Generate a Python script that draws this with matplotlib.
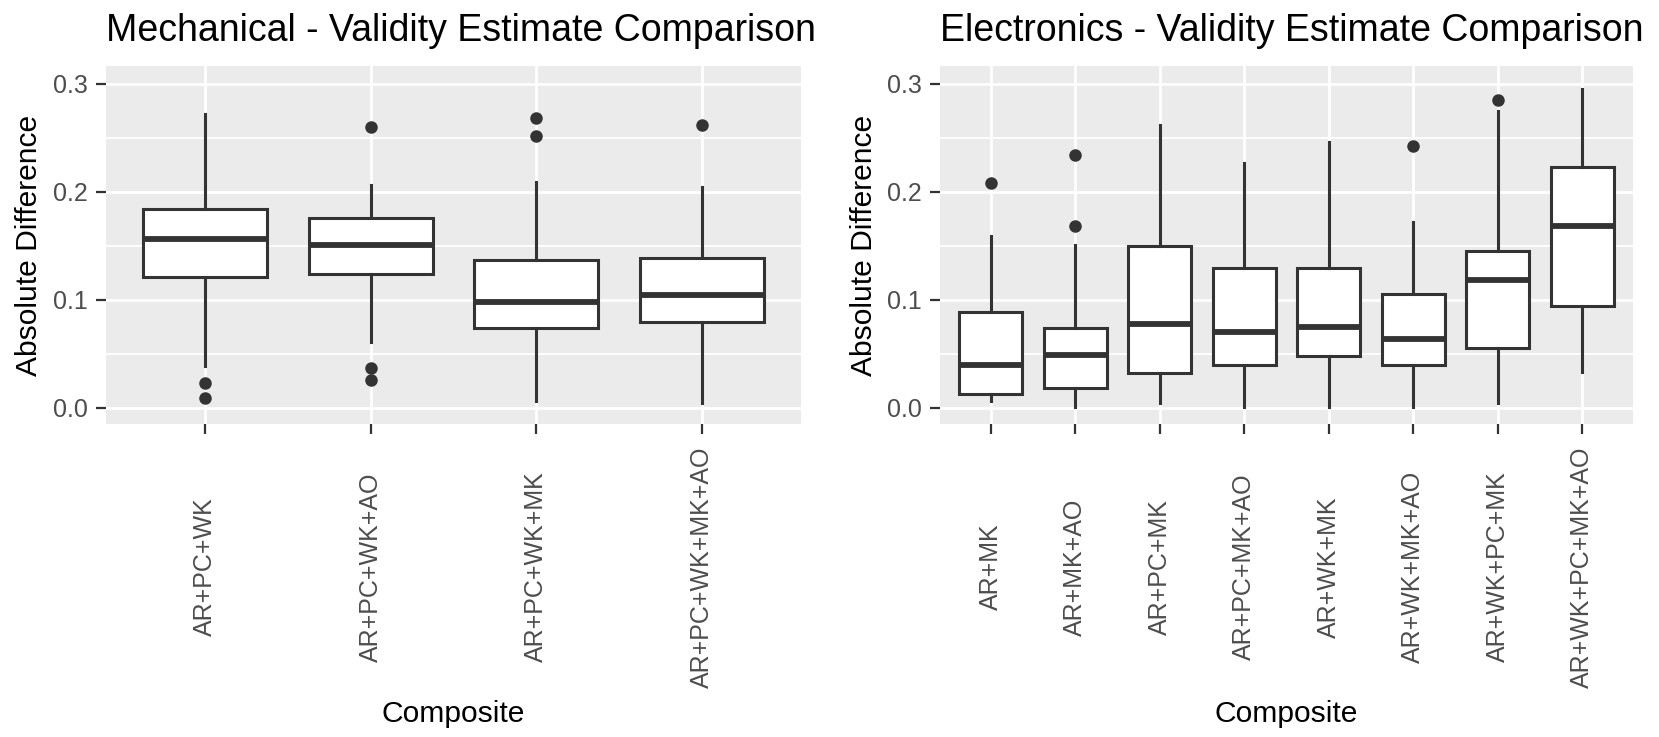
import matplotlib
matplotlib.use("Agg")
import matplotlib.pyplot as plt
import numpy as np

plt.rcParams['font.family'] = ['Liberation Sans', 'DejaVu Sans']

# Mechanical panel (box stats)
mech_labels = ['AR+PC+WK', 'AR+PC+WK+AO', 'AR+PC+WK+MK', 'AR+PC+WK+MK+AO']
mech_whislo = [0.039, 0.061, 0.006, 0.004]
mech_q1 = [0.121, 0.124, 0.074, 0.079]
mech_med = [0.156, 0.151, 0.098, 0.104]
mech_q3 = [0.184, 0.176, 0.137, 0.139]
mech_whishi = [0.272, 0.206, 0.209, 0.204]
mech_fliers = [[0.023, 0.009], [0.260, 0.037, 0.026], [0.268, 0.252], [0.262]]

# Electronics panel
elec_labels = ['AR+MK', 'AR+MK+AO', 'AR+PC+MK', 'AR+PC+MK+AO', 'AR+WK+MK',
               'AR+WK+MK+AO', 'AR+WK+PC+MK', 'AR+WK+PC+MK+AO']
elec_whislo = [0.006, 0.001, 0.004, 0.001, 0.001, 0.001, 0.004, 0.033]
elec_q1 = [0.013, 0.018, 0.032, 0.040, 0.048, 0.040, 0.055, 0.094]
elec_med = [0.040, 0.049, 0.078, 0.070, 0.075, 0.064, 0.118, 0.168]
elec_q3 = [0.089, 0.074, 0.150, 0.129, 0.129, 0.105, 0.145, 0.223]
elec_whishi = [0.159, 0.151, 0.262, 0.227, 0.246, 0.172, 0.275, 0.295]
elec_fliers = [[0.208], [0.234, 0.168], [], [], [], [0.242], [0.285], []]

dark = '#333333'
tick_col = '#4D4D4D'


def draw_panel(ax, labels, lo, q1, med, q3, hi, fliers, title):
    stats = []
    for i in range(len(labels)):
        stats.append(dict(whislo=lo[i], q1=q1[i], med=med[i], q3=q3[i],
                          whishi=hi[i], fliers=fliers[i], label=labels[i]))
    pos = np.arange(1, len(labels) + 1)
    ax.bxp(stats, positions=pos, widths=0.75, patch_artist=True, showcaps=False,
           boxprops=dict(facecolor='white', edgecolor=dark, linewidth=2.2),
           medianprops=dict(color=dark, linewidth=4.2, solid_capstyle='butt'),
           whiskerprops=dict(color=dark, linewidth=2.2),
           flierprops=dict(marker='o', markerfacecolor=dark, markeredgecolor=dark,
                           markersize=8))

    ax.set_facecolor('#EBEBEB')
    for s in ax.spines.values():
        s.set_visible(False)
    ax.set_axisbelow(True)

    ax.set_xlim(0.4, len(labels) + 0.6)
    ax.set_ylim(-0.015, 0.3165)
    ax.set_yticks([0.0, 0.1, 0.2, 0.3])
    ax.set_yticklabels(['0.0', '0.1', '0.2', '0.3'])
    ax.set_yticks([0.05, 0.15, 0.25], minor=True)
    ax.set_xticks(pos)
    ax.set_xticklabels(labels, rotation=90, ha='center', va='center')

    ax.grid(which='major', color='white', linewidth=2)
    ax.grid(which='minor', axis='y', color='white', linewidth=1.3)
    ax.tick_params(which='minor', length=0)
    ax.tick_params(axis='y', which='major', length=7, width=1.6, color=dark,
                   labelcolor=tick_col, labelsize=18, pad=6)
    ax.tick_params(axis='x', which='major', length=7, width=1.6, color=dark,
                   labelcolor=tick_col, labelsize=18, pad=96)

    ax.set_ylabel('Absolute Difference', fontsize=21.6)
    ax.yaxis.set_label_coords(-0.09, 0.5)
    ax.set_xlabel('Composite', fontsize=21.6)
    ax.xaxis.set_label_coords(0.5, -0.771)
    ax.set_title(title, loc='left', fontsize=27, pad=18)


fig = plt.figure(figsize=(16.59, 7.37), dpi=100)
ax1 = fig.add_axes([106 / 1659, 1 - 424 / 737, 695 / 1659, 358 / 737])
ax2 = fig.add_axes([940 / 1659, 1 - 424 / 737, 693 / 1659, 358 / 737])

draw_panel(ax1, mech_labels, mech_whislo, mech_q1, mech_med, mech_q3, mech_whishi,
           mech_fliers, 'Mechanical - Validity Estimate Comparison')
draw_panel(ax2, elec_labels, elec_whislo, elec_q1, elec_med, elec_q3, elec_whishi,
           elec_fliers, 'Electronics - Validity Estimate Comparison')

fig.savefig('out.png', dpi=100)
